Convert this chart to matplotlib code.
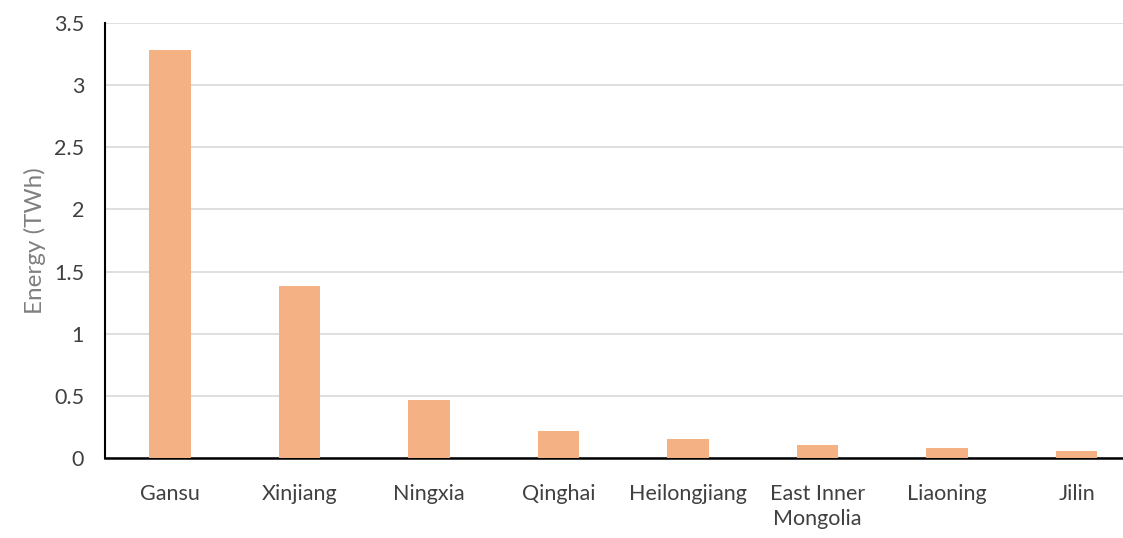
import matplotlib
matplotlib.use("Agg")
import matplotlib.pyplot as plt
import numpy as np

# Datos
provinces = ["Gansu", "Xinjiang", "Ningxia", "Qinghai", "Heilongjiang",
             "East Inner\nMongolia", "Liaoning", "Jilin"]
energy_twh = [3.28, 1.38, 0.47, 0.22, 0.15, 0.105, 0.08, 0.055]
y_ticks = [0, 0.5, 1, 1.5, 2, 2.5, 3, 3.5]
y_tick_labels = ["0", "0.5", "1", "1.5", "2", "2.5", "3", "3.5"]

plt.rcParams['font.family'] = ['Lato', 'DejaVu Sans']

fig = plt.figure(figsize=(11.23, 5.38), dpi=100)
ax = fig.add_axes([0.0935, 0.1487, 0.923, 0.8086])

x = np.arange(len(provinces))
ax.bar(x, energy_twh, width=0.32, color="#f4b183", zorder=3)

ax.set_xlim(-0.5, len(provinces) - 0.5)
ax.set_ylim(0, 3.5)
ax.set_yticks(y_ticks)
ax.set_yticklabels(y_tick_labels)
ax.set_xticks(x)
ax.set_xticklabels(provinces, linespacing=1.3)

ax.grid(axis="y", color="#d9d9d9", linewidth=1.2, zorder=0)
ax.set_axisbelow(True)

for side in ["top", "right"]:
    ax.spines[side].set_visible(False)
ax.spines["left"].set_linewidth(1.5)
ax.spines["bottom"].set_linewidth(1.8)
ax.spines["left"].set_color("black")
ax.spines["bottom"].set_color("black")

ax.tick_params(axis="both", length=0, labelsize=15.5, labelcolor="#404040")
ax.tick_params(axis="x", pad=19)
ax.tick_params(axis="y", pad=15)

ax.set_ylabel("Energy (TWh)", fontsize=17.5, color="#808080", labelpad=6)

fig.savefig("out.png", dpi=100)
